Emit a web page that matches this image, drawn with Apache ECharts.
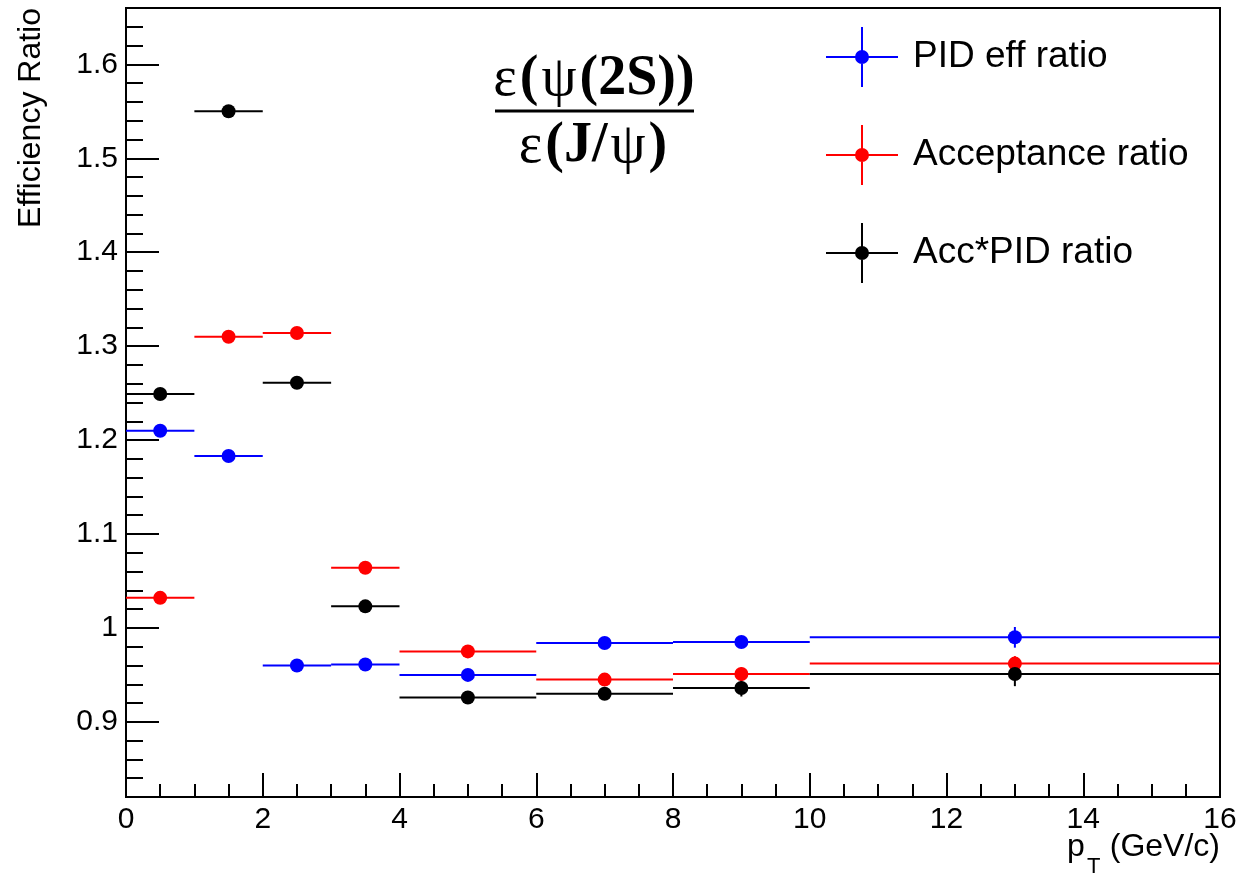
<!DOCTYPE html>
<html>
<head>
<meta charset="utf-8">
<script src="https://cdn.jsdelivr.net/npm/echarts@6/dist/echarts.min.js"></script>
<style>
html,body{margin:0;padding:0;background:#fff;}
#chart{width:1243px;height:874px;}
</style>
</head>
<body>
<div id="chart"></div>
<script>
// ---- data ----
const binLow    = [0, 1, 2, 3, 4, 6, 8, 10];
const binHigh   = [1, 2, 3, 4, 6, 8, 10, 16];
const binCenter = [0.5, 1.5, 2.5, 3.5, 5, 7, 9, 13];

const pidRatio    = [1.210, 1.183, 0.960, 0.961, 0.950, 0.984, 0.985, 0.990];
const pidErr      = [0.003, 0.003, 0.003, 0.003, 0.004, 0.005, 0.006, 0.011];
const accRatio    = [1.032, 1.310, 1.314, 1.064, 0.975, 0.945, 0.951, 0.962];
const accErr      = [0.003, 0.003, 0.003, 0.004, 0.004, 0.005, 0.007, 0.008];
const accPidRatio = [1.249, 1.550, 1.261, 1.023, 0.926, 0.930, 0.936, 0.951];
const accPidErr   = [0.003, 0.004, 0.004, 0.004, 0.004, 0.005, 0.009, 0.013];

const seriesNames  = ['PID eff ratio', 'Acceptance ratio', 'Acc*PID ratio'];
const seriesColors = ['#0000ff', '#ff0000', '#000000'];
const seriesValues = [pidRatio, accRatio, accPidRatio];
const seriesErrors = [pidErr, accErr, accPidErr];

const yMajorTicks = [0.9, 1.0, 1.1, 1.2, 1.3, 1.4, 1.5, 1.6];
const xTickStep = 2;

const SANS = 'Liberation Sans, Arial, sans-serif';
const SERIF = 'Liberation Serif, Times New Roman, serif';

const chart = echarts.init(document.getElementById('chart'), null, {renderer: 'canvas'});

function errRenderer(color) {
  return function (params, api) {
    const xc = api.value(0), y = api.value(1), xl = api.value(2), xh = api.value(3), e = api.value(4);
    const pL = api.coord([xl, y]), pH = api.coord([xh, y]);
    const pT = api.coord([xc, y + e]), pB = api.coord([xc, y - e]);
    return {
      type: 'group',
      children: [
        {type: 'line', shape: {x1: pL[0], y1: pL[1], x2: pH[0], y2: pH[1]}, style: {stroke: color, lineWidth: 2}},
        {type: 'line', shape: {x1: pT[0], y1: pT[1], x2: pB[0], y2: pB[1]}, style: {stroke: color, lineWidth: 2}}
      ]
    };
  };
}

const series = [];
seriesNames.forEach(function (name, i) {
  const vals = seriesValues[i], errs = seriesErrors[i];
  series.push({
    name: name + ' err',
    type: 'custom',
    renderItem: errRenderer(seriesColors[i]),
    data: binCenter.map(function (x, k) { return [x, vals[k], binLow[k], binHigh[k], errs[k]]; }),
    encode: {x: 0, y: 1},
    clip: true,
    z: 2,
    silent: true
  });
  series.push({
    name: name,
    type: 'scatter',
    symbol: 'circle',
    symbolSize: 14,
    itemStyle: {color: seriesColors[i], opacity: 1},
    data: binCenter.map(function (x, k) { return [x, vals[k]]; }),
    z: 3,
    silent: true
  });
});

const legendIcon = 'path://M0 29h72v2H0z M35 0h2v60h-2z M29 30a7 7 0 1 1 14 0a7 7 0 1 1 -14 0z';

const richFrac = {
  g: {fontFamily: SERIF, fontSize: 56, fontWeight: 'normal', fill: '#000', padding: [0, 1.5, 0, 1.5]},
  b: {fontFamily: SERIF, fontSize: 56, fontWeight: 'bold', fill: '#000', padding: [0, 1.5, 0, 1.5]}
};

const option = {
  backgroundColor: '#ffffff',
  animation: false,
  grid: {left: 126, right: 23, top: 8, bottom: 77, show: true, borderColor: '#000', borderWidth: 2, backgroundColor: 'transparent'},
  xAxis: {
    type: 'value', min: 0, max: 16, interval: xTickStep,
    axisLine: {show: true, onZero: false, lineStyle: {color: '#000', width: 2}},
    axisTick: {show: true, inside: true, length: 24, lineStyle: {color: '#000', width: 2}},
    minorTick: {show: true, splitNumber: 4, length: 13, lineStyle: {color: '#000', width: 2}},
    axisLabel: {color: '#000', fontFamily: SANS, fontSize: 30, margin: 8},
    splitLine: {show: false}
  },
  yAxis: [
    {
      type: 'value', min: 0.82, max: 1.66, interval: 0.02,
      axisLine: {show: true, onZero: false, lineStyle: {color: '#000', width: 2}},
      axisTick: {show: true, inside: true, length: 17, lineStyle: {color: '#000', width: 2}},
      axisLabel: {show: false},
      splitLine: {show: false}
    },
    {
      type: 'value', min: 0.82, max: 1.66, position: 'left',
      axisLine: {show: false},
      axisTick: {show: true, inside: true, length: 33, customValues: yMajorTicks, lineStyle: {color: '#000', width: 2}},
      axisLabel: {show: true, customValues: yMajorTicks, color: '#000', fontFamily: SANS, fontSize: 30, margin: 8,
        formatter: function (v) { return String(Math.round(v * 10) / 10); }},
      splitLine: {show: false}
    }
  ],
  legend: {
    orient: 'vertical', left: 826, top: 27, padding: 0,
    itemWidth: 72, itemHeight: 60, itemGap: 38,
    selectedMode: false,
    textStyle: {color: '#000', fontFamily: SANS, fontSize: 37, padding: [3, 0, 0, 10]},
    data: seriesNames.map(function (n, i) { return {name: n, icon: legendIcon, itemStyle: {color: seriesColors[i], opacity: 1}}; })
  },
  graphic: [
    {
      type: 'text', x: 31, y: 8, rotation: Math.PI / 2,
      style: {text: 'Efficiency Ratio', font: '32px ' + SANS, fill: '#000', textAlign: 'right', textVerticalAlign: 'middle'}
    },
    {
      type: 'text', x: 1220, y: 863,
      style: {text: '(GeV/c)', font: '32px ' + SANS, fill: '#000', textAlign: 'right', textVerticalAlign: 'bottom'}
    },
    {
      type: 'text', x: 1067, y: 863,
      style: {text: 'p', font: '32px ' + SANS, fill: '#000', textAlign: 'left', textVerticalAlign: 'bottom'}
    },
    {
      type: 'text', x: 1087, y: 878,
      style: {text: 'T', font: '22px ' + SANS, fill: '#000', textAlign: 'left', textVerticalAlign: 'bottom'}
    },
    {
      type: 'text', x: 594, y: 108,
      style: {text: '{g|ε}{b|(}{g|ψ}{b|(2S))}', textAlign: 'center', textVerticalAlign: 'bottom', rich: richFrac}
    },
    {
      type: 'line', shape: {x1: 495, y1: 111, x2: 694, y2: 111}, style: {stroke: '#000', lineWidth: 3}
    },
    {
      type: 'text', x: 593, y: 119,
      style: {text: '{g|ε}{b|(J/}{g|ψ}{b|)}', textAlign: 'center', textVerticalAlign: 'top', rich: richFrac}
    }
  ],
  series: series
};
chart.setOption(option);
</script>
</body>
</html>
